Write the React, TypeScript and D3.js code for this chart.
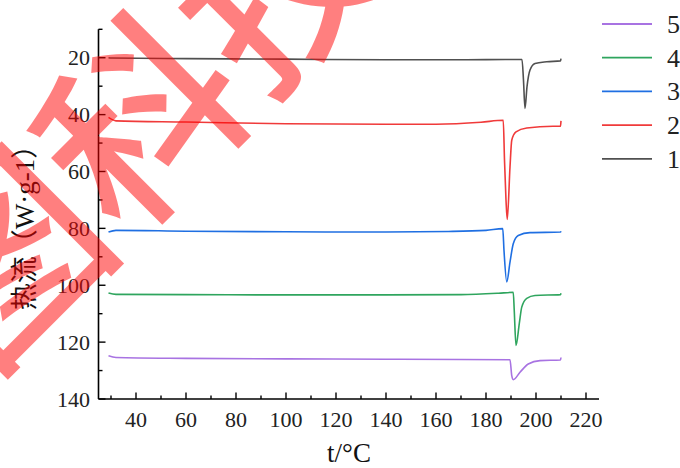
import React from 'react';
import * as d3 from 'd3';

// temperature (°C) and heat flow readings for each sample
const temp1 = [29, 30, 60, 100, 140, 170, 190, 194.4, 195, 195.6, 196.4, 197.6, 199.6, 204.3, 209.8, 210];
const flow1 = [20.0, 20.1, 20.3, 20.5, 20.7, 20.7, 20.6, 20.6, 28, 37.8, 30.2, 24.3, 22.0, 21.4, 21.1, 20.3];

const temp2 = [29, 32, 60, 100, 140, 160, 178, 186.9, 187.4, 188, 188.5, 189.6, 190.3, 192, 196.3, 206.8, 209.8, 210];
const flow2 = [41.0, 42.2, 42.6, 43.2, 43.4, 43.4, 42.7, 42.0, 56, 70, 76.9, 58.4, 49.0, 46.1, 44.7, 44.1, 44.1, 42.2];

const temp3 = [29, 32, 60, 100, 140, 165, 180, 186.7, 187.2, 188.3, 189.6, 190.9, 192.9, 197.6, 209.8, 210];
const flow3 = [81.3, 80.7, 81.0, 81.2, 81.3, 81.1, 80.7, 80.1, 87.8, 98.8, 91.9, 85.4, 82.5, 81.5, 81.3, 81.0];

const temp4 = [29, 32, 60, 100, 140, 170, 185, 190.9, 191.3, 192, 193.3, 194.3, 196.3, 199.6, 209.8, 210];
const flow4 = [102.7, 103.2, 103.3, 103.4, 103.4, 103.3, 102.8, 102.5, 108.9, 121.2, 113.6, 107.7, 104.6, 103.6, 103.3, 102.8];

const temp5 = [29, 32, 60, 100, 140, 170, 189.6, 190.3, 190.9, 193.6, 196.9, 201.6, 209.8, 210];
const flow5 = [124.8, 125.4, 125.7, 125.9, 126.0, 126.1, 126.2, 131.8, 133.2, 130.6, 127.7, 126.5, 126.3, 125.4];

const names = ['1', '2', '3', '4', '5'];
const colors = ['#505050', '#f03a3a', '#1f6fe2', '#2fa55e', '#a873e2'];
const xTicks = [40, 60, 80, 100, 120, 140, 160, 180, 200, 220];
const xMinor = [30, 50, 70, 90, 110, 130, 150, 170, 190, 210];
const yTicks = [20, 40, 60, 80, 100, 120, 140];
const yMinor = [10, 30, 50, 70, 90, 110, 130];

const serif = 'Liberation Serif, serif';

function App() {
  const x = d3.scaleLinear().domain([25, 225]).range([98.5, 598.5]);
  const y = d3.scaleLinear().domain([10, 140]).range([29.3, 399]);

  const temps = [temp1, temp2, temp3, temp4, temp5];
  const flows = [flow1, flow2, flow3, flow4, flow5];
  const series = names.map((n, i) => ({
    name: n,
    color: colors[i],
    pts: temps[i].map((t, j) => [t, flows[i][j]] as [number, number]),
  }));

  const line = d3.line<[number, number]>()
    .x(d => x(d[0]))
    .y(d => y(d[1]))
    .curve(d3.curveMonotoneX);

  const legendOrder = [...series].reverse();

  return (
    <svg width={680} height={468} style={{ position: 'absolute', left: 0, top: 0, background: '#fff' }}>
      {/* curves */}
      {series.map(s => (
        <path key={s.name} d={line(s.pts) || ''} fill="none" stroke={s.color} strokeWidth={1.6} />
      ))}

      {/* y axis */}
      <line x1={98.5} x2={98.5} y1={29.3} y2={399} stroke="#000" strokeWidth={1.6} />
      {yTicks.map(t => (
        <g key={'y' + t}>
          <line x1={98.5} x2={105.5} y1={y(t)} y2={y(t)} stroke="#000" strokeWidth={1.4} />
          <text x={90} y={y(t) + 7.5} textAnchor="end" fontFamily={serif} fontSize={22} fill="#222">{t}</text>
        </g>
      ))}
      {yMinor.map(t => (
        <line key={'ym' + t} x1={98.5} x2={102.5} y1={y(t)} y2={y(t)} stroke="#000" strokeWidth={1.4} />
      ))}

      {/* x axis */}
      <line x1={98.5} x2={599} y1={399} y2={399} stroke="#000" strokeWidth={1.6} />
      {xTicks.map(t => (
        <g key={'x' + t}>
          <line x1={x(t)} x2={x(t)} y1={399} y2={392.5} stroke="#000" strokeWidth={1.4} />
          <text x={x(t)} y={427} textAnchor="middle" fontFamily={serif} fontSize={22} fill="#222">{t}</text>
        </g>
      ))}
      {xMinor.map(t => (
        <line key={'xm' + t} x1={x(t)} x2={x(t)} y1={399} y2={395.5} stroke="#000" strokeWidth={1.4} />
      ))}

      {/* titles */}
      <text x={349} y={462} textAnchor="middle" fontFamily={serif} fontSize={27} fill="#111">t/°C</text>
      <text transform="translate(34,221) rotate(-90)" textAnchor="middle"
        fontFamily="Liberation Serif, Noto Sans CJK SC" fontSize={27} fill="#111">热流（W·g-1）</text>

      {/* legend */}
      {legendOrder.map((s, i) => (
        <g key={'lg' + s.name} transform={`translate(0,${24 + i * 33.7})`}>
          <line x1={602} x2={652} y1={0} y2={0} stroke={s.color} strokeWidth={1.8} />
          <text x={667} y={9} fontFamily={serif} fontSize={26} fill="#222">{s.name}</text>
        </g>
      ))}

      {/* watermark */}
      <text transform="translate(132,112) rotate(-45)" textAnchor="middle" dominantBaseline="central"
        fontFamily="Noto Sans CJK SC" fontWeight={500} fontSize={195}
        fill="#ff0000" fillOpacity={0.5}>图科技</text>
    </svg>
  );
}

export default App;
